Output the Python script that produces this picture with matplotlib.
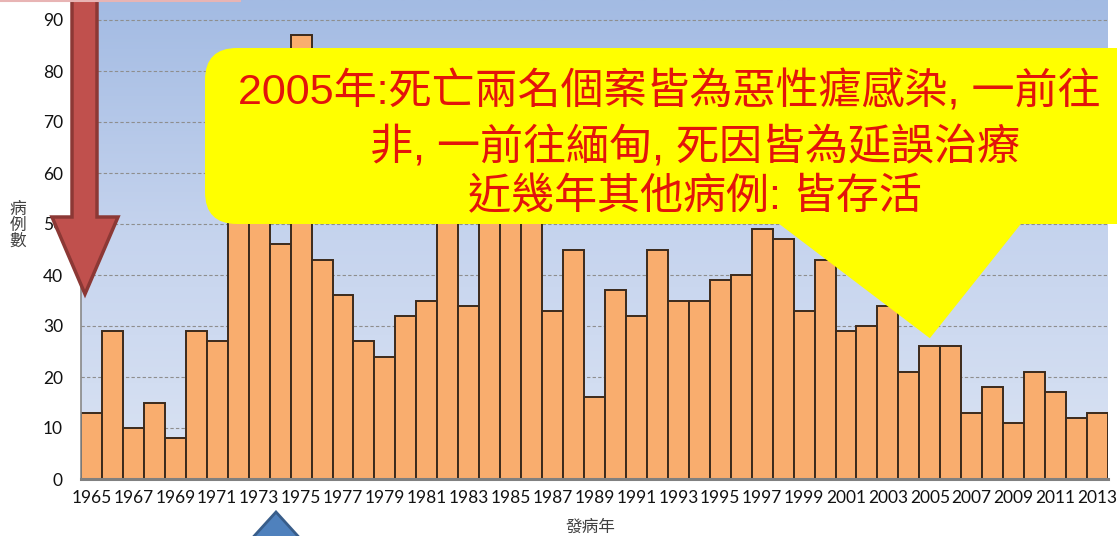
import numpy as np
import matplotlib
matplotlib.use("Agg")
import matplotlib.pyplot as plt
from matplotlib.patches import FancyBboxPatch, Polygon
from matplotlib.colors import LinearSegmentedColormap

plt.rcParams['font.family'] = ['Lato', 'Noto Sans CJK TC', 'DejaVu Sans']

# 境外移入瘧疾病例數, 1965-2013
years = list(range(1965, 2014))
cases = [13, 29, 10, 15, 8, 29, 27, 62, 58, 46,
         87, 43, 36, 27, 24, 32, 35, 55, 34, 68,
         72, 57, 33, 45, 16, 37, 32, 45, 35, 35,
         39, 40, 49, 47, 33, 43, 29, 30, 34, 21,
         26, 26, 13, 18, 11, 21, 17, 12, 13]
tick_years = years[::2]

note_lines = ["2005年:死亡兩名個案皆為惡性瘧感染, 一前往",
              "非, 一前往緬甸, 死因皆為延誤治療",
              "近幾年其他病例: 皆存活"]
note_year = 2005

W, H = 1117, 536
fig = plt.figure(figsize=(W / 100, H / 100), dpi=100)
ax = fig.add_axes([81 / W, 57 / H, (1108 - 81) / W, 479 / H])

x = np.arange(len(years))
ymax = 479 / 5.1

# blue gradient plot background
grad = LinearSegmentedColormap.from_list("bg", ["#DAE3F3", "#C6D4EE", "#A3BBE3"])
ax.imshow(np.linspace(0, 1, 256).reshape(-1, 1), cmap=grad, origin="lower",
          extent=(-0.5, len(years) - 0.5, 0, ymax), aspect="auto", zorder=-1)

ax.bar(x, cases, width=1.0, color="#F9AD6E", edgecolor="#3B2A1C", linewidth=1.4, zorder=2)

ax.set_xlim(-0.5, len(years) - 0.5)
ax.set_ylim(0, ymax)
ax.set_yticks(range(0, 91, 10))
ax.set_xticks([years.index(y) for y in tick_years])
ax.set_xticklabels([str(y) for y in tick_years])
ax.tick_params(axis="y", length=0, pad=13, labelsize=12.5, labelcolor="#111111")
ax.tick_params(axis="x", length=0, pad=8, labelsize=12.5, labelcolor="#111111")
ax.yaxis.grid(True, linestyle=(0, (3, 2)), color="#8E8E8E", linewidth=0.8)
ax.set_axisbelow(True)
for s in ("top", "right"):
    ax.spines[s].set_visible(False)
ax.spines["left"].set_color("#888888")
ax.spines["left"].set_linewidth(1.2)
ax.spines["bottom"].set_color("#808080")
ax.spines["bottom"].set_linewidth(2.2)

fig.text(590 / W, 1 - 527 / H, "發病年", ha="center", va="center",
         fontsize=12, color="#404040")
fig.text(18 / W, 1 - 225 / H, "病\n例\n數", ha="center", va="center",
         fontsize=12, color="#404040", linespacing=1.0)

# overlay in pixel coordinates for the callout and arrows
ov = fig.add_axes([0, 0, 1, 1], zorder=5)
ov.set_xlim(0, W)
ov.set_ylim(H, 0)
ov.axis("off")

# pointer tip sits just above the 2005 bar
tip = ax.transData.transform((years.index(note_year), cases[years.index(note_year)] + 1.6))
tip = (tip[0], H - tip[1])

yellow = "#FFFF00"
ov.add_patch(FancyBboxPatch((205, 48), 1000, 176,
                            boxstyle="round,pad=0,rounding_size=32",
                            facecolor=yellow, edgecolor="none"))
ov.add_patch(Polygon([(774, 220), (1024, 220), tip], closed=True,
                     facecolor=yellow, edgecolor="none"))

red = "#E3140B"
cjk = ["Liberation Sans", "Noto Sans CJK TC"]
ov.text(669, 92, note_lines[0], ha="center", va="center", fontsize=31, color=red, family=cjk)
ov.text(695, 148, note_lines[1], ha="center", va="center", fontsize=31, color=red, family=cjk)
ov.text(695, 198, note_lines[2], ha="center", va="center", fontsize=31, color=red, family=cjk)

# red down arrow on the left
ov.add_patch(Polygon([(72, -5), (97, -5), (97, 217), (118, 217), (85, 294),
                      (52, 217), (72, 217)], closed=True,
                     facecolor="#C0504D", edgecolor="#8C3835", linewidth=2.5))
# blue arrow head at the bottom
ov.add_patch(Polygon([(276, 512), (306, 545), (246, 545)], closed=True,
                     facecolor="#4F81BD", edgecolor="#385D8A", linewidth=2))
ov.plot([0, 240], [0.8, 0.8], color="#E8B4B4", linewidth=1.5)

fig.savefig("out.png", dpi=100)
